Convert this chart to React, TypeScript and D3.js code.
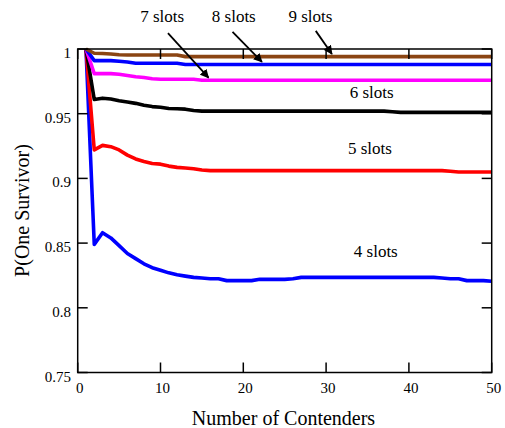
import React from "react";
import * as d3 from "d3";

const contenders = d3.range(1, 51);

const slots4 = [
  1.0, 0.849, 0.858, 0.854, 0.848, 0.842, 0.838, 0.834, 0.831, 0.829,
  0.827, 0.8255, 0.8245, 0.8235, 0.823, 0.8225, 0.8225, 0.821, 0.821, 0.821,
  0.821, 0.822, 0.822, 0.822, 0.822, 0.8225, 0.8235, 0.8235, 0.8235, 0.8235,
  0.8235, 0.8235, 0.8235, 0.8235, 0.8235, 0.8235, 0.8235, 0.8235, 0.8235, 0.8235,
  0.8235, 0.8235, 0.8235, 0.823, 0.8225, 0.8225, 0.821, 0.821, 0.821, 0.8205,
];
const slots5 = [
  1.0, 0.922, 0.9255, 0.9245, 0.922, 0.918, 0.915, 0.913, 0.9115, 0.911,
  0.9095, 0.9085, 0.908, 0.9075, 0.9065, 0.906, 0.906, 0.906, 0.906, 0.906,
  0.906, 0.906, 0.906, 0.906, 0.906, 0.906, 0.906, 0.906, 0.906, 0.906,
  0.906, 0.906, 0.906, 0.906, 0.906, 0.906, 0.906, 0.906, 0.906, 0.906,
  0.906, 0.906, 0.906, 0.906, 0.9055, 0.905, 0.905, 0.905, 0.905, 0.905,
];
const slots6 = [
  1.0, 0.961, 0.962, 0.9613, 0.96, 0.959, 0.958, 0.9565, 0.9555, 0.955,
  0.954, 0.9538, 0.9535, 0.9525, 0.952, 0.952, 0.952, 0.952, 0.952, 0.952,
  0.952, 0.952, 0.952, 0.952, 0.952, 0.952, 0.952, 0.952, 0.952, 0.952,
  0.952, 0.952, 0.952, 0.952, 0.952, 0.952, 0.952, 0.9515, 0.951, 0.951,
  0.951, 0.951, 0.951, 0.951, 0.951, 0.951, 0.951, 0.951, 0.951, 0.951,
];
const slots7 = [
  1.0, 0.981, 0.981, 0.981, 0.9805, 0.9795, 0.9785, 0.978, 0.977, 0.9766,
  0.9766, 0.9766, 0.9766, 0.9766, 0.9758, 0.9758, 0.9758, 0.9758, 0.9758, 0.9758,
  0.9758, 0.9758, 0.9758, 0.9758, 0.9758, 0.9758, 0.9758, 0.9758, 0.9758, 0.9758,
  0.9758, 0.9758, 0.9758, 0.9758, 0.9758, 0.9758, 0.9758, 0.9758, 0.9758, 0.9758,
  0.9758, 0.9758, 0.9758, 0.9758, 0.9758, 0.9758, 0.9758, 0.9758, 0.9758, 0.9758,
];
const slots8 = [
  1.0, 0.991, 0.991, 0.991, 0.9905, 0.99, 0.989, 0.989, 0.989, 0.989,
  0.989, 0.989, 0.988, 0.988, 0.988, 0.988, 0.988, 0.988, 0.988, 0.988,
  0.988, 0.988, 0.988, 0.988, 0.988, 0.988, 0.988, 0.988, 0.988, 0.988,
  0.988, 0.988, 0.988, 0.988, 0.988, 0.988, 0.988, 0.988, 0.988, 0.988,
  0.988, 0.988, 0.988, 0.988, 0.988, 0.988, 0.988, 0.988, 0.988, 0.988,
];
const slots9 = [
  1.0, 0.9967, 0.9965, 0.9961, 0.9955, 0.9954, 0.9954, 0.9954, 0.9954, 0.9954,
  0.9954, 0.9954, 0.9941, 0.9941, 0.9941, 0.9941, 0.9941, 0.9941, 0.9941, 0.9941,
  0.9941, 0.9941, 0.9941, 0.9941, 0.9941, 0.9941, 0.9941, 0.9941, 0.9941, 0.9941,
  0.9941, 0.9941, 0.9941, 0.9941, 0.9941, 0.9941, 0.9941, 0.9941, 0.9941, 0.9941,
  0.9941, 0.9941, 0.9941, 0.9941, 0.9941, 0.9941, 0.9941, 0.9941, 0.9941, 0.9941,
];

const seriesNames = ["4 slots", "5 slots", "6 slots", "7 slots", "8 slots", "9 slots"];
const seriesValues = [slots4, slots5, slots6, slots7, slots8, slots9];
const seriesColors = ["#0000ff", "#ff0000", "#000000", "#ff00ff", "#0000ff", "#8b4513"];

const xTicks = [0, 10, 20, 30, 40, 50];
const yTicks = [0.75, 0.8, 0.85, 0.9, 0.95, 1];
const yTickLabels = ["0.75", "0.8", "0.85", "0.9", "0.95", "1"];

// inline labels (data coords)
const inlineLabels = [
  { text: "4 slots", x: 36.0, y: 0.8395 },
  { text: "5 slots", x: 35.3, y: 0.9185 },
  { text: "6 slots", x: 35.5, y: 0.9618 },
];
// arrow labels above the plot (data coords): label pos, arrow start, arrow tip
const arrowLabels = [
  { text: "7 slots", lx: 10.2, ly: 1.0205, sx: 10.9, sy: 1.0122, tx: 15.8, ty: 0.9778 },
  { text: "8 slots", lx: 18.85, ly: 1.0205, sx: 18.7, sy: 1.0133, tx: 22.25, ty: 0.99 },
  { text: "9 slots", lx: 28.1, ly: 1.0205, sx: 28.75, sy: 1.014, tx: 30.7, ty: 0.9962 },
];

const W = 505;
const H = 428;
const left = 77.7;
const right = 491.7;
const top = 49;
const bottom = 372.5;

const FONT = "Liberation Serif";

export default function App() {
  const x = d3.scaleLinear().domain([0, 50]).range([left, right]);
  const y = d3.scaleLinear().domain([0.75, 1]).range([bottom, top]);
  const line = d3
    .line<number>()
    .x((_, i) => x(contenders[i]))
    .y((d) => y(d));

  const tickLen = 10;
  const ts = { fontFamily: FONT };

  return (
    <svg
      width={W}
      height={H}
      style={{ position: "absolute", left: 0, top: 0, background: "#fff" }}
    >
      <defs>
        <marker
          id="arrow"
          viewBox="0 0 10 10"
          refX="9"
          refY="5"
          markerWidth="5"
          markerHeight="5"
          markerUnits="strokeWidth"
          orient="auto"
        >
          <path d="M0,0 L10,5 L0,10 z" fill="#000" />
        </marker>
        <clipPath id="plot">
          <rect x={left} y={top - 3} width={right - left} height={bottom - top + 3} />
        </clipPath>
      </defs>
      <rect x={0} y={0} width={W} height={H} fill="#fff" />

      {/* series */}
      <g clipPath="url(#plot)">
        {seriesValues.map((vals, i) => (
          <path
            key={seriesNames[i]}
            d={line(vals) || ""}
            fill="none"
            stroke={seriesColors[i]}
            strokeWidth={3.6}
            strokeLinejoin="round"
          />
        ))}
      </g>

      {/* frame */}
      <rect x={left} y={top} width={right - left} height={bottom - top} fill="none" stroke="#000" strokeWidth={1.5} />

      {/* x ticks */}
      {xTicks.map((t) => (
        <g key={"x" + t}>
          <line x1={x(t)} x2={x(t)} y1={bottom} y2={bottom - tickLen} stroke="#000" strokeWidth={1.5} />
          <line x1={x(t)} x2={x(t)} y1={top} y2={top + tickLen} stroke="#000" strokeWidth={1.5} />
          <text x={x(t) + 2} y={393} textAnchor="middle" fontSize={15} fill="#000" style={ts}>
            {t}
          </text>
        </g>
      ))}
      {/* y ticks */}
      {yTicks.map((t, i) => (
        <g key={"y" + t}>
          <line x1={left} x2={left + tickLen} y1={y(t)} y2={y(t)} stroke="#000" strokeWidth={1.5} />
          <line x1={right} x2={right - tickLen} y1={y(t)} y2={y(t)} stroke="#000" strokeWidth={1.5} />
          <text x={71} y={y(t) + 9} textAnchor="end" fontSize={15} fill="#000" style={ts}>
            {yTickLabels[i]}
          </text>
        </g>
      ))}

      {/* axis labels */}
      <text x={283.5} y={425} textAnchor="middle" fontSize={20} fill="#000" style={ts}>
        Number of Contenders
      </text>
      <text
        transform={`translate(29,210.5) rotate(-90)`}
        textAnchor="middle"
        fontSize={20}
        fill="#000"
        style={ts}
      >
        P(One Survivor)
      </text>

      {/* inline labels */}
      {inlineLabels.map((l) => (
        <text key={l.text} x={x(l.x)} y={y(l.y)} textAnchor="middle" fontSize={17} fill="#000" style={ts}>
          {l.text}
        </text>
      ))}

      {/* arrow labels */}
      {arrowLabels.map((a) => (
        <g key={a.text}>
          <text x={x(a.lx)} y={y(a.ly)} textAnchor="middle" fontSize={17} fill="#000" style={ts}>
            {a.text}
          </text>
          <line
            x1={x(a.sx)}
            y1={y(a.sy)}
            x2={x(a.tx)}
            y2={y(a.ty)}
            stroke="#000"
            strokeWidth={1.8}
            markerEnd="url(#arrow)"
          />
        </g>
      ))}
    </svg>
  );
}
